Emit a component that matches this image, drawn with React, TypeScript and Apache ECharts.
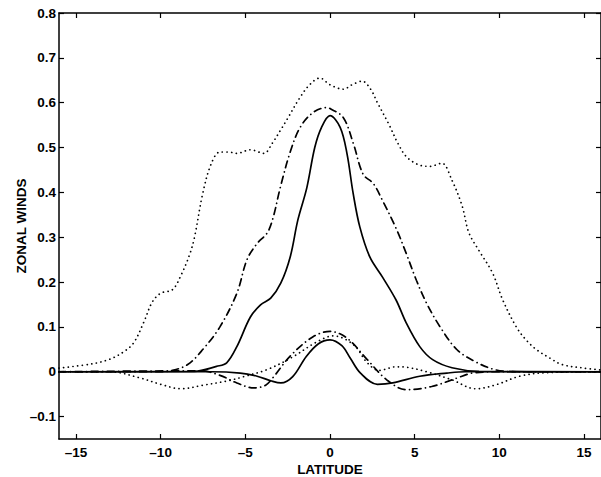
import React, { useEffect, useRef } from "react";
import * as echarts from "echarts";

// Tick values
const xTicks = [-15, -10, -5, 0, 5, 10, 15];
const yTicks = [-0.1, 0, 0.1, 0.2, 0.3, 0.4, 0.5, 0.6, 0.7, 0.8];

// Large dotted curve
const dottedBigX = [-16, -14, -13, -12.2, -11.6, -11, -10.5, -10, -9.3, -8.8, -8.3, -8, -7.5, -7, -6.5, -6, -5.5, -4.7, -3.9, -3.4, -2.9, -2.5, -1.8, -1.2, -0.6, 0, 0.8, 1.3, 1.9, 2.4, 2.8, 3.5, 4.0, 4.5, 5.2, 5.9, 6.6, 7.2, 7.8, 8.2, 8.8, 9.6, 10.2, 11, 11.6, 12.2, 13, 13.7, 15, 16];
const dottedBigY = [0.008, 0.018, 0.028, 0.044, 0.064, 0.11, 0.155, 0.175, 0.183, 0.215, 0.26, 0.3, 0.4, 0.465, 0.49, 0.49, 0.487, 0.495, 0.487, 0.51, 0.54, 0.565, 0.61, 0.64, 0.655, 0.64, 0.63, 0.64, 0.648, 0.63, 0.6, 0.55, 0.51, 0.48, 0.462, 0.458, 0.465, 0.427, 0.37, 0.31, 0.27, 0.22, 0.16, 0.1, 0.07, 0.049, 0.03, 0.016, 0.008, 0.004];

// Large dash-dot curve
const dashDotBigX = [-16, -10, -9.4, -8.4, -7.5, -6.5, -5.5, -4.9, -4.3, -3.7, -3.35, -2.94, -2.35, -1.76, -1, -0.2, 0, 0.78, 1.37, 1.96, 2.55, 3.1, 3.9, 4.5, 5.1, 5.7, 6.5, 7.5, 8.6, 9.8, 11, 16];
const dashDotBigY = [0, 0, 0.002, 0.016, 0.05, 0.1, 0.175, 0.25, 0.286, 0.31, 0.345, 0.41, 0.49, 0.545, 0.578, 0.589, 0.587, 0.567, 0.51, 0.44, 0.42, 0.382, 0.32, 0.264, 0.204, 0.153, 0.1, 0.049, 0.022, 0.004, 0, 0];

// Large solid curve
const solidBigX = [-16, -8, -6.7, -6.1, -5.5, -4.7, -4.1, -3.5, -2.9, -2.35, -1.9, -1.37, -0.9, -0.5, 0, 0.6, 1.0, 1.37, 1.76, 2.35, 3.1, 3.9, 4.5, 5.3, 6.06, 7.2, 8.8, 16];
const solidBigY = [0, 0.001, 0.012, 0.02, 0.056, 0.122, 0.149, 0.164, 0.198, 0.256, 0.338, 0.41, 0.5, 0.545, 0.571, 0.545, 0.487, 0.397, 0.323, 0.256, 0.211, 0.16, 0.109, 0.056, 0.027, 0.009, 0.001, 0];

// Small solid curve
const solidSmallX = [-16, -7, -5.3, -4.3, -3.5, -2.9, -2.2, -1.4, -0.7, 0, 0.7, 1.2, 1.8, 2.8, 3.7, 5.3, 6.9, 8, 16];
const solidSmallY = [0, 0, -0.003, -0.01, -0.02, -0.025, -0.011, 0.034, 0.062, 0.071, 0.058, 0.03, -0.003, -0.028, -0.025, -0.01, -0.003, 0, 0];

// Small dash-dot curve
const dashDotSmallX = [-16, -7.6, -6.5, -5.5, -4.5, -3.8, -3.3, -2.35, -1, 0, 1, 2.2, 3.35, 4.5, 6, 7.5, 8.4, 10, 16];
const dashDotSmallY = [0, 0.002, -0.008, -0.025, -0.036, -0.03, -0.01, 0.035, 0.078, 0.09, 0.075, 0.027, -0.018, -0.04, -0.033, -0.014, -0.003, 0, 0];

// Small dotted curve
const dottedSmallX = [-16, -13, -11.2, -10, -8.8, -7.5, -6, -5, -3.7, -2.2, -0.8, 0.2, 1.4, 2.2, 2.9, 3.9, 4.5, 5.7, 7.2, 8.6, 9.8, 11.2, 12.8, 16];
const dottedSmallY = [0, 0, -0.014, -0.028, -0.038, -0.03, -0.02, -0.01, 0.005, 0.033, 0.066, 0.08, 0.06, 0.02, 0.003, 0.011, 0.01, 0, -0.018, -0.038, -0.029, -0.01, -0.002, 0];

const pairs = (xs: number[], ys: number[]) => xs.map((x, i) => [x, ys[i]]);

const DOTTED = [0.1, 4.6];
const DASHDOT = [7, 4.5, 0.1, 4.5];

const fmtNum = (v: number, dec: number) => {
  if (Math.abs(v) < 1e-9) return "0";
  const s = Math.abs(v).toFixed(dec);
  return v < 0 ? "\u2013" + s : s;
};

export default function App() {
  const ref = useRef<HTMLDivElement>(null);
  useEffect(() => {
    if (!ref.current) return;
    const chart = echarts.init(ref.current, null, { renderer: "svg" });
    const font = "Liberation Sans, Arial, Helvetica, sans-serif";
    const axisLine = { show: true, onZero: false, lineStyle: { color: "#000", width: 1.5 } };
    const tick = { show: true, inside: true, length: 5, lineStyle: { color: "#000", width: 1.2 } };
    const mkSeries = (name: string, xs: number[], ys: number[], type: any, width: number) => ({
      name,
      type: "line",
      xAxisIndex: 0,
      yAxisIndex: 0,
      data: pairs(xs, ys),
      showSymbol: false,
      smooth: 0.35,
      lineStyle: { color: "#000", width, type, cap: "round" },
      z: 3,
    });
    const labelStyle = { color: "#000", fontSize: 13.5, fontWeight: "bold", fontFamily: font };
    chart.setOption({
      animation: false,
      backgroundColor: "#fff",
      grid: { left: 59, right: 0, top: 13, bottom: 38, containLabel: false, outerBoundsMode: "none" },
      xAxis: [
        {
          type: "value",
          position: "bottom",
          min: -16,
          max: 16,
          name: "LATITUDE",
          nameLocation: "middle",
          nameGap: 23,
          nameMoveOverlap: false,
          nameTextStyle: labelStyle,
          axisLine,
          axisTick: { ...tick, customValues: xTicks },
          axisLabel: {
            show: true,
            customValues: xTicks,
            margin: 6,
            ...labelStyle,
            formatter: (v: number) => fmtNum(v, 0),
          },
          splitLine: { show: false },
        },
        {
          type: "value",
          position: "top",
          min: -16,
          max: 16,
          axisLine,
          axisTick: { ...tick, customValues: xTicks },
          axisLabel: { show: false },
          splitLine: { show: false },
        },
      ],
      yAxis: [
        {
          type: "value",
          position: "left",
          min: -0.15,
          max: 0.8,
          name: "ZONAL WINDS",
          nameLocation: "middle",
          nameGap: 31,
          nameMoveOverlap: false,
          nameRotate: 90,
          nameTextStyle: labelStyle,
          axisLine,
          axisTick: { ...tick, customValues: yTicks },
          axisLabel: {
            show: true,
            customValues: yTicks,
            margin: 3,
            ...labelStyle,
            formatter: (v: number) => fmtNum(v, 1),
          },
          splitLine: { show: false },
        },
        {
          type: "value",
          position: "right",
          min: -0.15,
          max: 0.8,
          axisLine,
          axisTick: { ...tick, customValues: yTicks },
          axisLabel: { show: false },
          splitLine: { show: false },
        },
      ],
      series: [
        mkSeries("dotted-large", dottedBigX, dottedBigY, DOTTED, 1.7),
        mkSeries("dashdot-large", dashDotBigX, dashDotBigY, DASHDOT, 1.7),
        mkSeries("solid-large", solidBigX, solidBigY, "solid", 1.7),
        mkSeries("solid-small", solidSmallX, solidSmallY, "solid", 1.7),
        mkSeries("dashdot-small", dashDotSmallX, dashDotSmallY, DASHDOT, 1.7),
        mkSeries("dotted-small", dottedSmallX, dottedSmallY, DOTTED, 1.7),
      ],
    });
    return () => chart.dispose();
  }, []);
  return (
    <div
      ref={ref}
      style={{ position: "fixed", left: 0, top: 0, width: 601, height: 477, background: "#fff" }}
    />
  );
}
